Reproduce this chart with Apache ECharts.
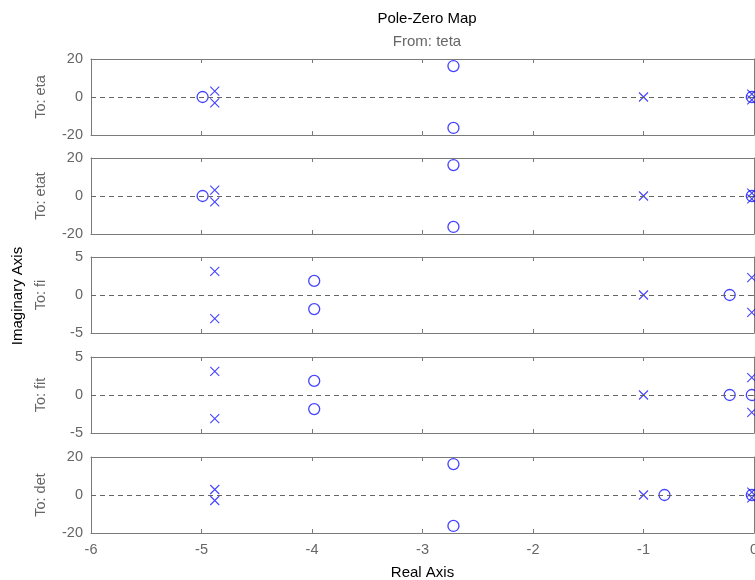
<!DOCTYPE html>
<html>
<head>
<meta charset="utf-8">
<script src="https://cdn.jsdelivr.net/npm/echarts@6/dist/echarts.min.js"></script>
<style>
  html, body { margin: 0; padding: 0; background: #fff; }
  #main { width: 755px; height: 580px; }
</style>
</head>
<body>
<div id="main"></div>
<script>
// outputs (rows of the pole-zero map)
var outputs = ['To: eta', 'To: etat', 'To: fi', 'To: fit', 'To: det'];
var yLimits = [20, 20, 5, 5, 20];

// poles (x) and zeros (o) per output, as [real, imag]
var etaPoles = [[-4.88, 3.1], [-4.88, -3.1], [-1.0, 0], [-0.02, 1.5], [-0.02, -1.5]];
var etaZeros = [[-4.99, 0], [-2.72, 16.3], [-2.72, -16.3], [-0.02, 0]];
var etatPoles = [[-4.88, 3.1], [-4.88, -3.1], [-1.0, 0], [-0.02, 1.5], [-0.02, -1.5]];
var etatZeros = [[-4.99, 0], [-2.72, 16.3], [-2.72, -16.3], [-0.02, 0]];
var fiPoles = [[-4.88, 3.1], [-4.88, -3.1], [-1.0, 0], [-0.02, 2.3], [-0.02, -2.3]];
var fiZeros = [[-3.98, 1.85], [-3.98, -1.85], [-0.22, 0]];
var fitPoles = [[-4.88, 3.1], [-4.88, -3.1], [-1.0, 0], [-0.02, 2.3], [-0.02, -2.3]];
var fitZeros = [[-3.98, 1.85], [-3.98, -1.85], [-0.22, 0], [-0.02, 0]];
var detPoles = [[-4.88, 2.9], [-4.88, -2.9], [-1.0, 0], [-0.02, 1.5], [-0.02, -1.5]];
var detZeros = [[-2.72, 16.3], [-2.72, -16.3], [-0.81, 0], [-0.02, 0]];

var poles = [etaPoles, etatPoles, fiPoles, fitPoles, detPoles];
var zeros = [etaZeros, etatZeros, fiZeros, fitZeros, detZeros];

var xTicks = [-6, -5, -4, -3, -2, -1, 0];

var gridTops = [59, 158, 257, 357, 457];
var gridHeight = 76;
var axisGray = '#7a7a7a';
var textGray = '#666';
var blue = '#1414ff';
var font = '"Liberation Sans", Arial, sans-serif';

var myChart = echarts.init(document.getElementById('main'));

var grids = [], xAxes = [], yAxes = [], series = [];

for (var i = 0; i < outputs.length; i++) {
    var last = (i === outputs.length - 1);
    grids.push({ left: 91, right: 1, top: gridTops[i], height: gridHeight, containLabel: false, outerBoundsMode: 'none' });

    // bottom and top x axes (box with inside ticks)
    ['bottom', 'top'].forEach(function (pos) {
        var showLabels = last && pos === 'bottom';
        xAxes.push({
            type: 'value', gridIndex: i, position: pos,
            min: xTicks[0], max: xTicks[xTicks.length - 1], interval: 1,
            axisLine: { show: true, onZero: false, lineStyle: { color: axisGray, width: 1 } },
            axisTick: { show: true, inside: true, length: 4, lineStyle: { color: axisGray } },
            axisLabel: { show: showLabels, color: textGray, fontFamily: font, fontSize: 14.5, margin: 9 },
            splitLine: { show: false },
            name: showLabels ? 'Real Axis' : '',
            nameLocation: 'middle', nameGap: 32,
            nameTextStyle: { color: '#000', fontFamily: font, fontSize: 15 }
        });
    });

    // left and right y axes
    ['left', 'right'].forEach(function (pos) {
        var isLeft = pos === 'left';
        yAxes.push({
            type: 'value', gridIndex: i, position: pos,
            min: -yLimits[i], max: yLimits[i], interval: yLimits[i],
            axisLine: { show: true, onZero: false, lineStyle: { color: axisGray, width: 1 } },
            axisTick: { show: true, inside: true, length: 4, lineStyle: { color: axisGray } },
            axisLabel: { show: isLeft, color: textGray, fontFamily: font, fontSize: 14.5, margin: 8 },
            splitLine: { show: false },
            name: isLeft ? outputs[i] : '',
            nameLocation: 'middle', nameGap: 43, nameRotate: 90,
            nameTextStyle: { color: textGray, fontFamily: font, fontSize: 14.5 }
        });
    });

    series.push({
        type: 'scatter', name: 'poles', xAxisIndex: 2 * i, yAxisIndex: 2 * i,
        data: poles[i],
        symbol: 'path://M0,0L10,10M10,0L0,10',
        symbolSize: 9,
        itemStyle: { color: 'transparent', borderColor: blue, borderWidth: 1.1 },
        z: 3,
        markLine: {
            silent: true, symbol: 'none', label: { show: false },
            lineStyle: { color: '#666', type: [5, 4], width: 1 },
            data: [{ yAxis: 0 }]
        }
    });
    series.push({
        type: 'scatter', name: 'zeros', xAxisIndex: 2 * i, yAxisIndex: 2 * i,
        data: zeros[i],
        symbol: 'circle',
        symbolSize: 11,
        itemStyle: { color: 'transparent', borderColor: blue, borderWidth: 1.3 },
        z: 3
    });
}

var option = {
    animation: false,
    backgroundColor: '#fff',
    title: {
        text: 'Pole-Zero Map',
        subtext: 'From: teta',
        left: 422, top: 6, textAlign: 'center', itemGap: 8,
        textStyle: { color: '#000', fontFamily: font, fontSize: 15, fontWeight: 'normal' },
        subtextStyle: { color: textGray, fontFamily: font, fontSize: 15 }
    },
    graphic: [{
        type: 'text', x: 18, y: 296, rotation: Math.PI / 2,
        style: { text: 'Imaginary Axis', fill: '#000', font: '15px ' + font, textAlign: 'center', textVerticalAlign: 'middle' }
    }],
    grid: grids,
    xAxis: xAxes,
    yAxis: yAxes,
    series: series
};

myChart.setOption(option);
</script>
</body>
</html>
